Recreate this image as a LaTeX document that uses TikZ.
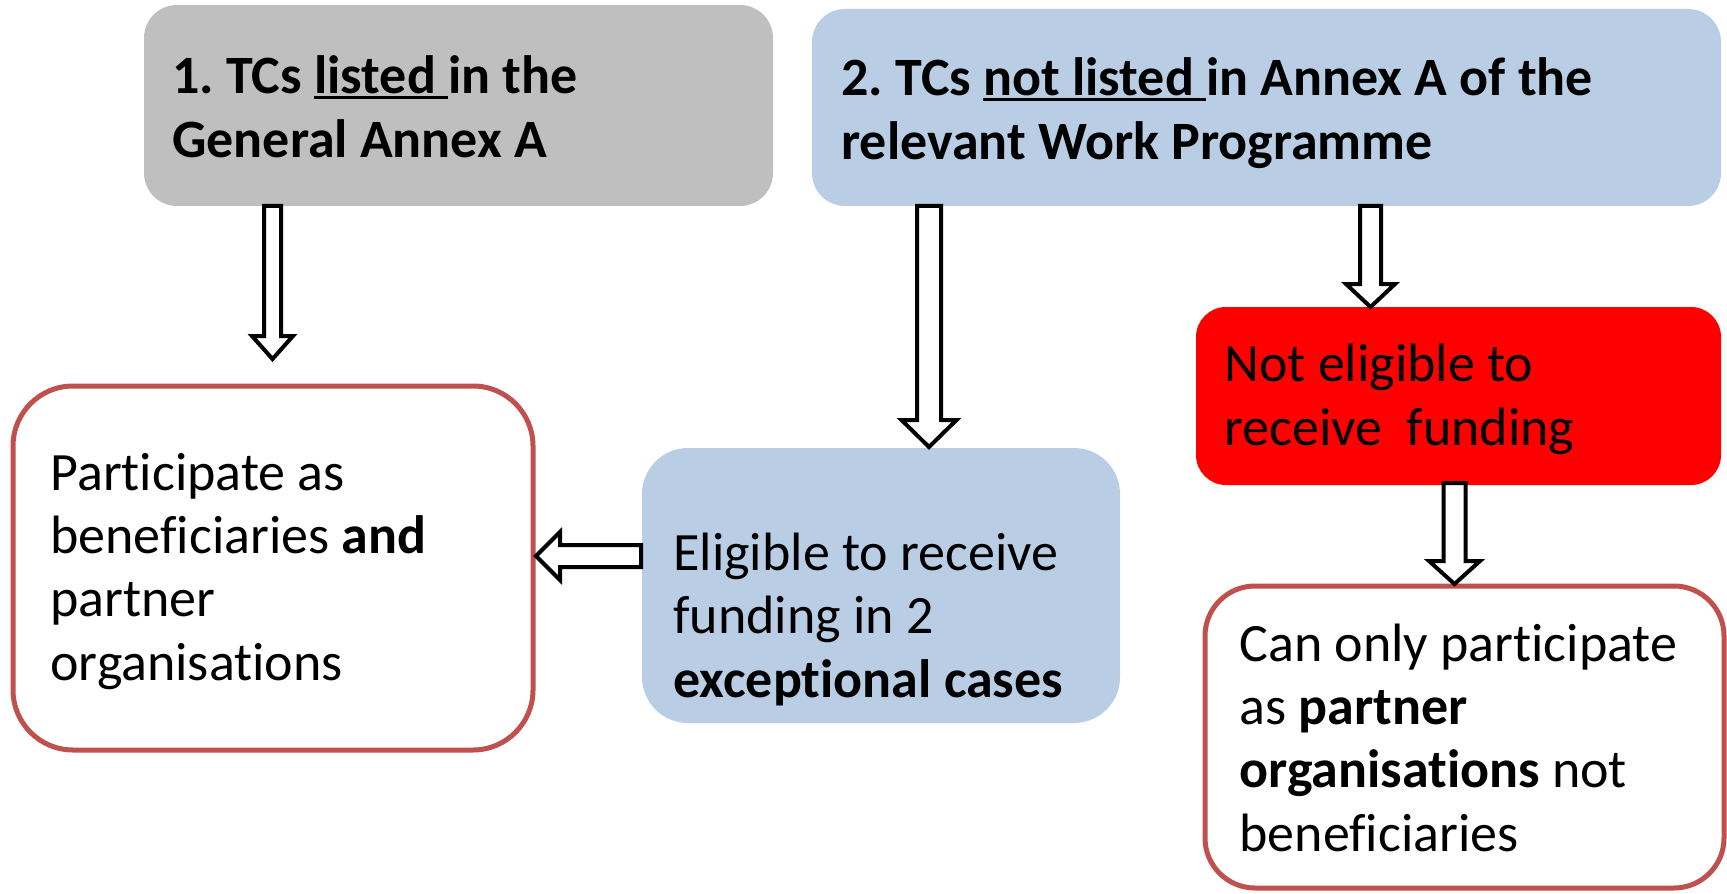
\documentclass[tikz,border=0pt]{standalone}
\usepackage{fontspec}
\setmainfont{Carlito}[Ligatures=NoCommon]
\usetikzlibrary{calc}
\definecolor{boxgray}{HTML}{BFBFBF}
\definecolor{boxblue}{HTML}{B9CDE5}
\definecolor{boxred}{HTML}{FF0000}
\definecolor{rimred}{HTML}{C0504D}
\frenchspacing
\newcommand\myul[1]{\setbox0\hbox{#1}\rlap{\rule[-2.6pt]{\wd0}{1.5pt}}\box0}
\newcommand\blkdown[5]{%
  \draw[blockarrow] ($(#1)+(-#3,0)$) -- ($(#2)+(-#3,-#5)$) -- ($(#2)+(-#4,-#5)$) -- (#2)
    -- ($(#2)+(#4,-#5)$) -- ($(#2)+(#3,-#5)$) -- ($(#1)+(#3,0)$) -- cycle;}
\newcommand\blkleft[5]{%
  \draw[blockarrow] ($(#1)+(0,-#3)$) -- ($(#2)+(#5,-#3)$) -- ($(#2)+(#5,-#4)$) -- (#2)
    -- ($(#2)+(#5,#4)$) -- ($(#2)+(#5,#3)$) -- ($(#1)+(0,#3)$) -- cycle;}
\begin{document}
\begin{tikzpicture}[x=0.5pt,y=-0.5pt,
  box/.style={rectangle, inner sep=0pt, outer sep=0pt},
  graybox/.style={box, fill=boxgray, rounded corners=16.5pt},
  bluebox/.style={box, fill=boxblue},
  redbox/.style={box, fill=boxred, rounded corners=15pt},
  whitebox/.style={box, draw=rimred, fill=white, line width=2.5pt},
  txt/.style={anchor=base west, inner sep=0pt, align=left, font=\fontsize{27}{31.6}\selectfont},
  btxt/.style={anchor=base west, inner sep=0pt, align=left, font=\fontsize{27}{32}\selectfont\bfseries},
  blockarrow/.style={draw=black, fill=white, line width=2pt, line join=miter}]
\useasboundingbox (0,0) rectangle (1727,893);
\fill[white] (0,0) rectangle (1727,893);

% boxes
\node[graybox, minimum width=314.5pt, minimum height=100.5pt] (box1) at (458.5,105.5) {};
\node[bluebox, rounded corners=16.5pt, minimum width=454.5pt, minimum height=98.5pt] (box2) at (1266.5,107.5) {};
\node[whitebox, rounded corners=30pt, minimum width=260pt, minimum height=182pt] (left) at (273,568) {};
\node[bluebox, rounded corners=23pt, minimum width=239pt, minimum height=137.5pt] (mid) at (881,585.5) {};
\node[redbox, minimum width=262.5pt, minimum height=89pt] (red) at (1458.5,396) {};
\node[whitebox, rounded corners=25pt, minimum width=259.5pt, minimum height=151pt] (br) at (1464.5,737) {};

% texts (anchor = baseline of the last line)
\node[btxt] (t1) at (172,158) {1. TCs \myul{listed\ }in the\\General Annex A};
\node[btxt] (t2) at (841,160) {2. TCs \myul{not listed\ }in Annex A of the\\relevant Work Programme};
\node[txt] (tl) at (50,680) {Participate as\\beneficiaries \textbf{and}\\partner\\organisations};
\node[txt] (tm) at (673,697) {Eligible to receive\\funding in 2\\\textbf{exceptional cases}};
\node[txt] (tr) at (1224,445) {Not eligible to\\receive\ \ funding};
\node[txt] (tb) at (1239,851) {Can only participate\\as \textbf{partner}\\\textbf{organisations} not\\beneficiaries};

% connectors (block arrows)
\coordinate (a1s) at (272.5,0 |- box1.south);
\coordinate (a1e) at ($(272.5,0 |- left.north)+(0,-27)$);
\coordinate (a2s) at (929,0 |- box2.south);
\coordinate (a2e) at ($(929,0 |- mid.north)+(0,-1)$);
\coordinate (a3s) at (1370.5,0 |- box2.south);
\coordinate (a3e) at (1370.5,0 |- red.north);
\coordinate (a4s) at ($(1454.5,0 |- red.south)+(0,-2)$);
\coordinate (a4e) at ($(1454.5,0 |- br.north)+(0,-2)$);
\coordinate (a5s) at ($(mid.west |- 0,556)+(-1,0)$);
\coordinate (a5e) at ($(left.east |- 0,556)+(3,0)$);
\blkdown{a1s}{a1e}{8.5}{20.5}{23}
\blkdown{a2s}{a2e}{12}{27.5}{27}
\blkdown{a3s}{a3e}{10.5}{24.5}{23}
\blkdown{a4s}{a4e}{11}{25.5}{23}
\blkleft{a5s}{a5e}{11}{24}{24}
\end{tikzpicture}
\end{document}
